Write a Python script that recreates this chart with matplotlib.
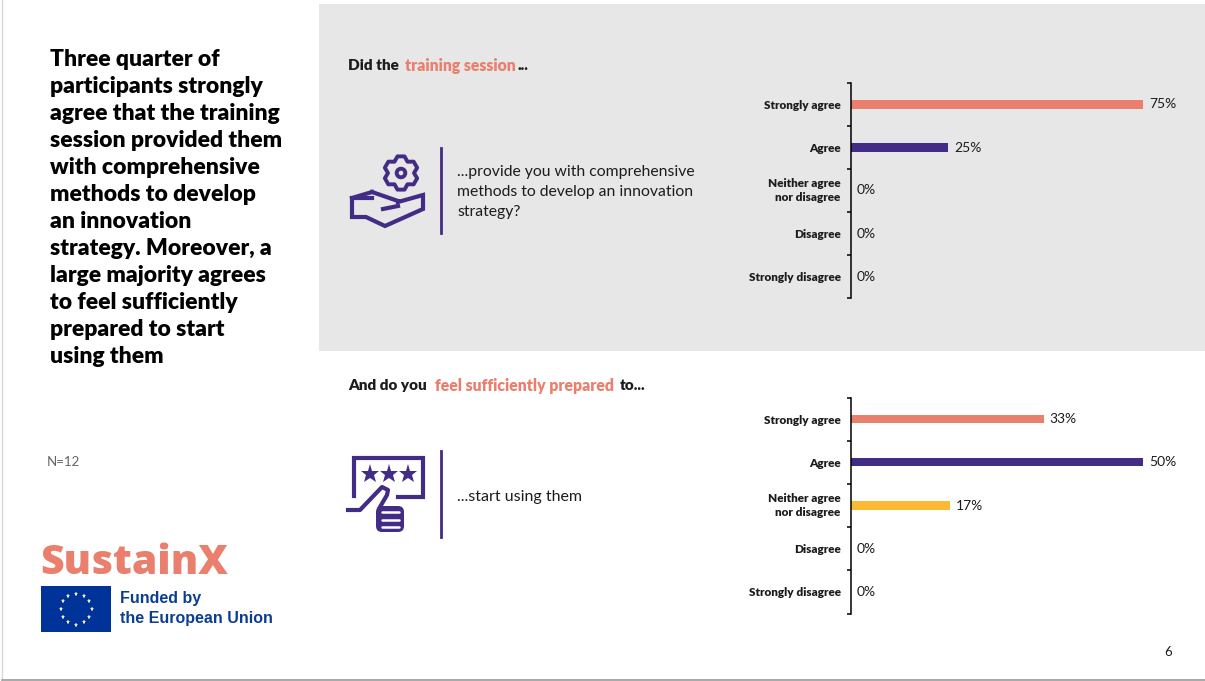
import matplotlib
matplotlib.use('Agg')
import matplotlib.pyplot as plt
import numpy as np
from matplotlib.patches import Rectangle, FancyBboxPatch, Circle

W, H = 1205, 681
PURPLE = '#432C85'
SALMON = '#E97F6C'
YELLOW = '#FBB934'
PANEL = '#E7E7E7'
INK = '#1C1C1C'

categories = ['Strongly agree', 'Agree', 'Neither agree\nnor disagree', 'Disagree', 'Strongly disagree']
method_values = [75, 25, 0, 0, 0]
prepared_values = [33, 50, 17, 0, 0]
bar_colors = [SALMON, PURPLE, YELLOW, YELLOW, YELLOW]

headline = ['Three quarter of', 'participants strongly', 'agree that the training',
	'session provided them', 'with comprehensive', 'methods to develop',
	'an innovation', 'strategy. Moreover, a', 'large majority agrees',
	'to feel sufficiently', 'prepared to start', 'using them']

plt.rcParams['font.family'] = ['Lato', 'DejaVu Sans']


def bar_panel(fig, left, top, width, height, values):
	ax = fig.add_axes([left / W, 1 - (top + height) / H, width / W, height / H])
	ax.patch.set_alpha(0)
	y = np.arange(len(values))
	ax.barh(y, values, height=0.19, color=bar_colors)
	ax.set_xlim(0, max(values))
	ax.set_ylim(len(values) - 0.5, -0.5)
	for spine in ['top', 'right', 'bottom']:
		ax.spines[spine].set_visible(False)
	ax.spines['left'].set_linewidth(1.1)
	ax.spines['left'].set_color('black')
	ax.set_xticks([])
	ax.set_yticks(np.arange(len(values) + 1) - 0.5)
	ax.set_yticklabels([])
	ax.tick_params(axis='y', which='major', length=3, width=1.1, direction='out')
	ax.set_yticks(y, minor=True)
	labels = ax.set_yticklabels(categories, minor=True, fontsize=8.5, fontweight='heavy',
		color=INK, linespacing=1.25)
	for label in labels:
		if '\n' in label.get_text():
			label.set_verticalalignment('center')
	ax.tick_params(axis='y', which='minor', length=0, pad=7.5)
	for i, v in enumerate(values):
		ax.annotate(str(v) + '%', (v, i), xytext=(4.2, 0), textcoords='offset points',
			va='center', ha='left', fontsize=10, color=INK, annotation_clip=False)
	return ax


def gear(bg, cx, cy, r_out, r_in, teeth=6):
	# gear outline: each tooth is a flat top between two valley points
	step = 2 * np.pi / teeth
	xs, ys = [], []
	for i in range(teeth):
		a = i * step - np.pi / 2
		for da, r in [(-0.5, r_in), (-0.2, r_out), (0.2, r_out), (0.5, r_in)]:
			xs.append(cx + r * np.cos(a + da * step))
			ys.append(cy + r * np.sin(a + da * step))
	bg.fill(xs, ys, facecolor='none', edgecolor=PURPLE, linewidth=2.8, joinstyle='round')
	bg.add_patch(Circle((cx, cy), 4.3, facecolor='none', edgecolor=PURPLE, linewidth=2.8))


def hand_icon(bg):
	gear(bg, 401, 173, 17, 13)
	hand_x = [372, 352, 352, 366, 385, 423, 423, 398, 398, 372]
	hand_y = [198, 198, 217, 217, 226, 209, 195, 202, 201, 192]
	bg.plot(hand_x, hand_y, color=PURPLE, lw=3, solid_joinstyle='miter')
	bg.plot([352, 372], [198, 192], color=PURPLE, lw=3)
	bg.plot([383, 398], [209, 206], color=PURPLE, lw=3)


def rating_icon(bg):
	bg.plot([354, 354, 423, 423, 398], [496, 457.5, 457.5, 496.5, 496.5], color=PURPLE, lw=3,
		solid_joinstyle='miter')
	bg.plot([370, 389, 408], [473.5, 473.5, 473.5], ls='none', marker='*', ms=14, color=PURPLE, mew=0)
	# finger rising out of the fist
	bg.plot([348, 360, 382, 388, 387, 380], [510, 510, 487, 490, 495, 507], color=PURPLE, lw=3,
		solid_joinstyle='round')
	bg.add_patch(FancyBboxPatch((376, 506), 28, 26, boxstyle='round,pad=0,rounding_size=6',
		facecolor=PURPLE, edgecolor='none'))
	for y0 in [512, 520, 526.5]:
		bg.plot([382, 399], [y0, y0], color='white', lw=1.8, solid_capstyle='round')


def eu_flag(bg):
	bg.add_patch(Rectangle((41, 586), 70, 46, facecolor='#003399', edgecolor='none'))
	a = np.arange(12) * np.pi / 6
	bg.plot(76 + 15.5 * np.cos(a), 609 + 15.5 * np.sin(a), ls='none', marker='*', ms=3.6,
		color='#F0EDC0', mew=0)


fig = plt.figure(figsize=(W / 100, H / 100), dpi=100, facecolor='white')

# full-slide layer in pixel units for the panel, text and icons
bg = fig.add_axes([0, 0, 1, 1])
bg.set_xlim(0, W)
bg.set_ylim(H, 0)
bg.axis('off')
bg.add_patch(Rectangle((319, 4), W - 319, 347, facecolor=PANEL, edgecolor='none'))
bg.plot([2, 2], [0, 680], color='#D8D8D8', lw=1)
bg.plot([2, W], [680, 680], color='#9A9A9A', lw=1.2)

for i, line in enumerate(headline):
	bg.text(50, 59.5 + i * 27, line, fontsize=16.5, fontweight='heavy', color='black', va='center')

bg.text(47, 462, 'N=12', fontsize=9.5, color='#666666', va='center')
bg.text(40, 563, 'SustainX', fontsize=29.5, fontweight='heavy', family='Open Sans', color=SALMON, va='center')
eu_flag(bg)
bg.text(120, 599, 'Funded by', fontsize=11.5, fontweight='bold', family='Liberation Sans', color='#0B3D91', va='center')
bg.text(120, 618, 'the European Union', fontsize=11.5, fontweight='bold', family='Liberation Sans', color='#0B3D91', va='center')
bg.text(1168, 652, '6', fontsize=9.5, color=INK, ha='center', va='center')

bg.text(348, 66, 'Did the', fontsize=11, fontweight='heavy', color=INK, va='center')
bg.text(405, 66, 'training session', fontsize=11.3, fontweight='heavy', color=SALMON, va='center')
bg.text(518, 66, '...', fontsize=11, fontweight='heavy', color=INK, va='center')
bg.text(348, 386, 'And do you', fontsize=11, fontweight='heavy', color=INK, va='center')
bg.text(435, 386, 'feel sufficiently prepared', fontsize=11.3, fontweight='heavy', color=SALMON, va='center')
bg.text(620, 386, 'to...', fontsize=11, fontweight='heavy', color=INK, va='center')

bg.plot([441, 441], [148, 233], color=PURPLE, lw=2)
bg.plot([441, 441], [451, 537], color=PURPLE, lw=2)
bg.text(457, 192, '...provide you with comprehensive\nmethods to develop an innovation\nstrategy?',
	fontsize=11.3, color=INK, va='center', linespacing=1.57)
bg.text(457, 497, '...start using them', fontsize=11.5, color=INK, va='center')

hand_icon(bg)
rating_icon(bg)

bar_panel(fig, 851, 83, 292, 215, method_values)
bar_panel(fig, 851, 397.5, 292, 216, prepared_values)

fig.savefig('out.png', dpi=100)
